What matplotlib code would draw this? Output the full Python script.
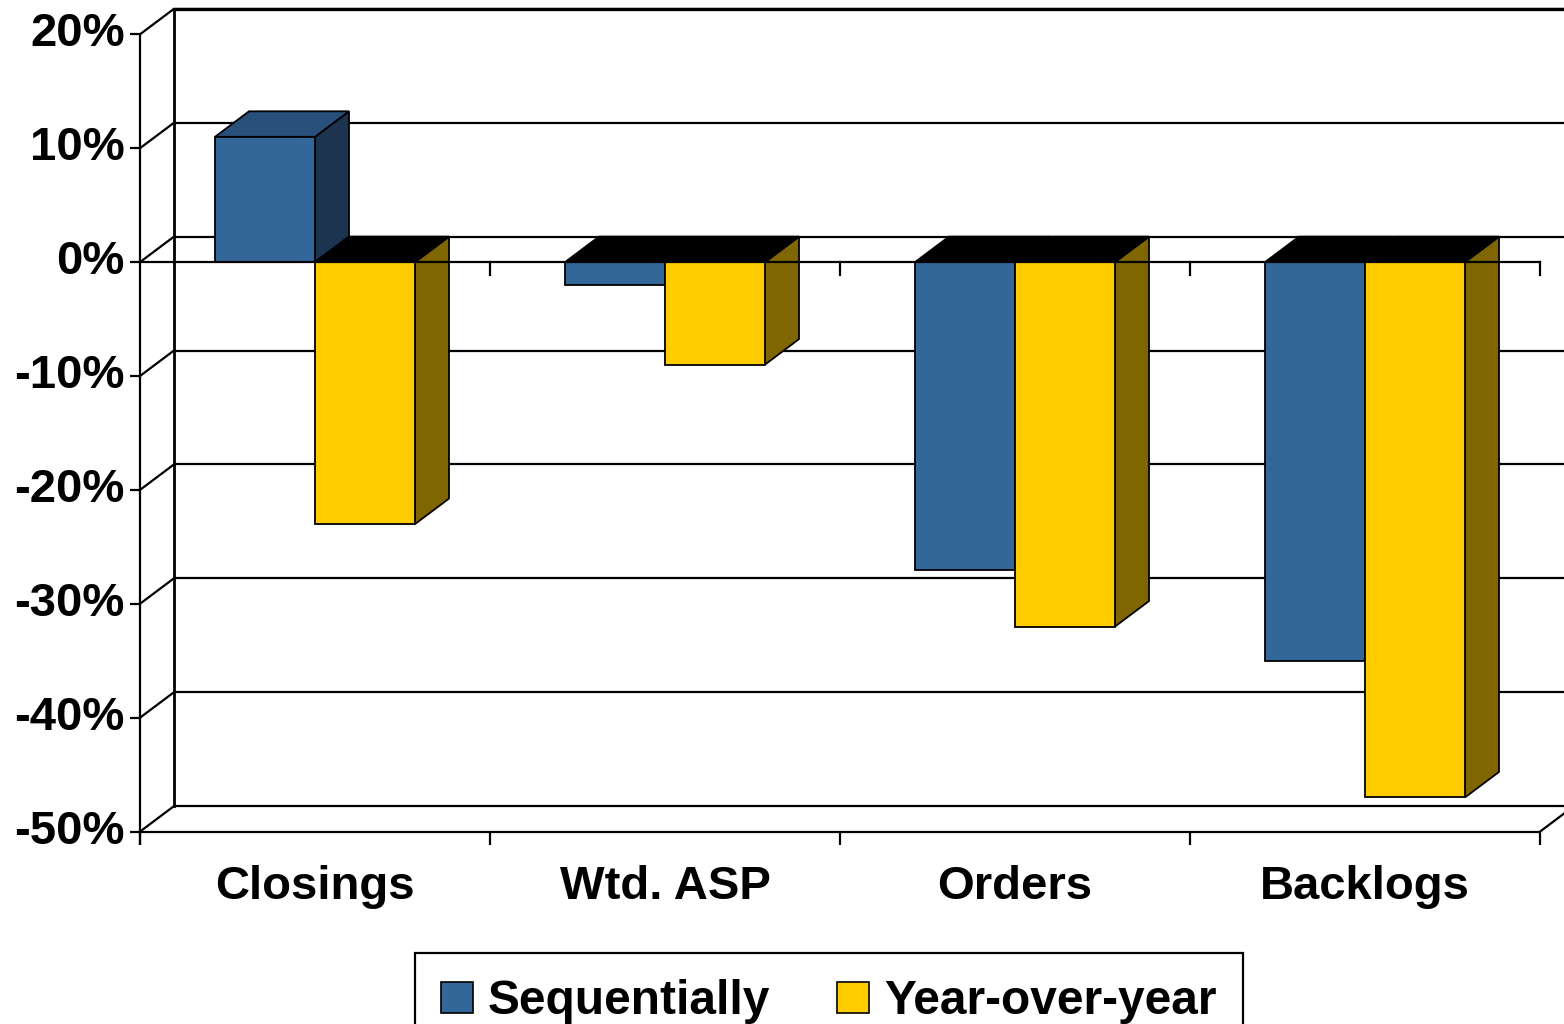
import matplotlib
matplotlib.use("Agg")
import matplotlib.pyplot as plt
from matplotlib.patches import Polygon, Patch

plt.rcParams['font.family'] = ['Liberation Sans', 'DejaVu Sans']

# ---- data ----
categories = ["Closings", "Wtd. ASP", "Orders", "Backlogs"]
sequentially = [11, -2, -27, -35]
year_over_year = [-23, -9, -32, -47]
y_ticks = [20, 10, 0, -10, -20, -30, -40, -50]
series_names = ["Sequentially", "Year-over-year"]

# ---- styling ----
BLUE, BLUE_TOP, BLUE_SIDE = "#336699", "#28507A", "#1C3450"
GOLD, GOLD_TOP, GOLD_SIDE = "#FFCC00", "#B38F00", "#806600"
NEG_TOP = "#000000"

# pixel geometry of the pseudo-3D frame (category width, % height, depth)
FIG_W, FIG_H = 1564, 1024
PX_X0, PX_CAT = 140, 350.0          # front-left x, pixels per category
PX_Y0, PX_PCT = 262.1, 11.39        # y pixel of 0%, pixels per percent
DX = 34 / PX_CAT                    # depth offset in category units
DY = 25.5 / PX_PCT                  # depth offset in percent units
BAR_W = 100 / PX_CAT
GAP = 75 / PX_CAT
YMIN, YMAX = min(y_ticks), max(y_ticks)
NCAT = len(categories)

fig = plt.figure(figsize=(FIG_W / 100, FIG_H / 100), dpi=100)
ax = fig.add_axes([0, 0, 1, 1])
ax.set_xlim(-PX_X0 / PX_CAT, (FIG_W - PX_X0) / PX_CAT)
ax.set_ylim((PX_Y0 - FIG_H) / PX_PCT, PX_Y0 / PX_PCT)
ax.axis("off")

LW = 1.6
line_kw = dict(color="black", lw=LW, solid_capstyle="butt", zorder=1)

# back wall gridlines and left wall
x_right_back = NCAT + DX + 0.2
for t in y_ticks:
    ax.plot([DX, x_right_back], [t + DY, t + DY], **line_kw)
    ax.plot([0, DX], [t, t + DY], **line_kw)
    ax.plot([-10 / PX_CAT, 0], [t, t], **line_kw)
ax.plot([DX, DX], [YMIN + DY, YMAX + DY], color="black", lw=2.0, zorder=1)
ax.plot([DX, x_right_back], [YMAX + DY, YMAX + DY], color="black", lw=2.4, zorder=1)

tick_len = 13 / PX_PCT
# front-left edge and floor
ax.plot([0, 0], [YMIN - tick_len, YMAX], **line_kw)
ax.plot([0, NCAT], [YMIN, YMIN], **line_kw)
ax.plot([NCAT, NCAT + DX], [YMIN, YMIN + DY], **line_kw)
for k in range(NCAT + 1):
    ax.plot([k, k], [YMIN, YMIN - tick_len], **line_kw)


def draw_bar(x0, v, front, top, side):
    w = BAR_W
    side_pts = [(x0 + w, 0), (x0 + w + DX, DY), (x0 + w + DX, v + DY), (x0 + w, v)]
    ytop = max(v, 0)
    top_pts = [(x0, ytop), (x0 + w, ytop), (x0 + w + DX, ytop + DY), (x0 + DX, ytop + DY)]
    front_pts = [(x0, 0), (x0 + w, 0), (x0 + w, v), (x0, v)]
    top_col = top if v > 0 else NEG_TOP
    for pts, col in ((side_pts, side), (top_pts, top_col), (front_pts, front)):
        ax.add_patch(Polygon(pts, closed=True, facecolor=col, edgecolor="black",
                             lw=1.3, joinstyle="miter", zorder=2))


for i in range(NCAT):
    x0 = i + GAP
    draw_bar(x0, sequentially[i], BLUE, BLUE_TOP, BLUE_SIDE)
    draw_bar(x0 + BAR_W, year_over_year[i], GOLD, GOLD_TOP, GOLD_SIDE)

# front category axis at 0%
ax.plot([0, NCAT], [0, 0], color="black", lw=LW, zorder=3)
for k in range(1, NCAT + 1):
    ax.plot([k, k], [0, -tick_len], color="black", lw=LW, zorder=3)

# y tick labels
for t in y_ticks:
    ax.text(-15 / PX_CAT, t, f"{t}%", ha="right", va="center",
            fontsize=34, fontweight="bold", zorder=4)

# category labels
y_cat = YMIN - (885 - 830) / PX_PCT
for i, name in enumerate(categories):
    ax.text(i + 0.5, y_cat, name, ha="center", va="center",
            fontsize=34, fontweight="bold", zorder=4)

handles = [Patch(facecolor=BLUE, edgecolor="black", lw=1.2),
           Patch(facecolor=GOLD, edgecolor="black", lw=1.2)]
leg = fig.legend(handles, series_names, loc="upper center", ncol=2,
                 bbox_to_anchor=(829 / FIG_W, 1 - 953 / FIG_H),
                 prop=dict(family=['Liberation Sans', 'DejaVu Sans'], weight="bold", size=34.5),
                 frameon=True, fancybox=False, framealpha=1, edgecolor="black",
                 borderaxespad=0, borderpad=0.55, handlelength=0.66, handleheight=0.64,
                 handletextpad=0.32, columnspacing=1.4)
leg.get_frame().set_linewidth(1.6)

fig.savefig("out.png", dpi=100)
